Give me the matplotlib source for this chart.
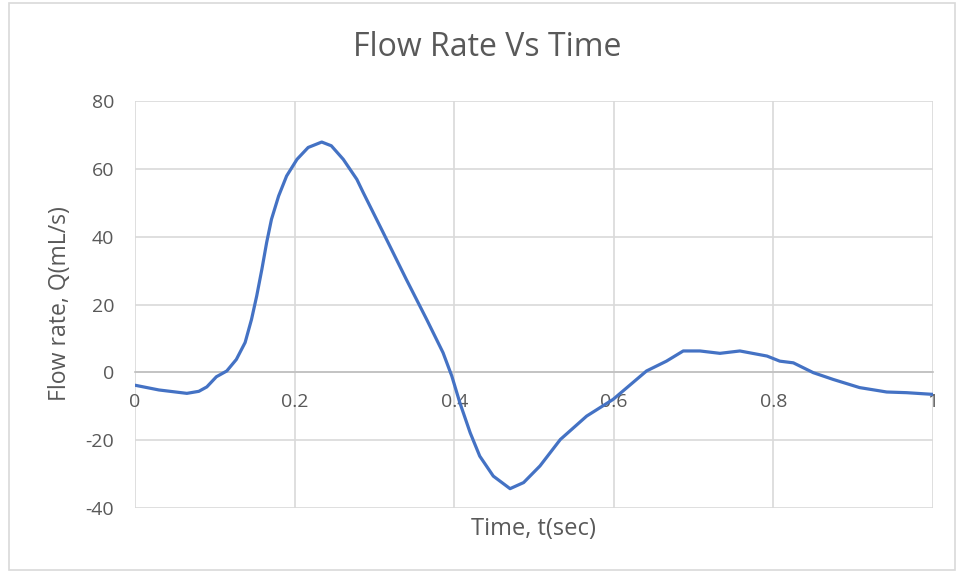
# Flow rate vs time (Excel-style line chart)
import matplotlib
matplotlib.use("Agg")
import matplotlib.pyplot as plt
from matplotlib.patches import Rectangle

# Data
time_s = [0, 0.03, 0.065, 0.08, 0.09, 0.102, 0.115, 0.127, 0.138, 0.146,
          0.1525, 0.159, 0.165, 0.171, 0.18, 0.19, 0.203, 0.217, 0.234,
          0.246, 0.261, 0.278, 0.286, 0.311, 0.34, 0.3655, 0.386, 0.397,
          0.407, 0.42, 0.432, 0.449, 0.47, 0.487, 0.5075, 0.533, 0.566,
          0.599, 0.624, 0.641, 0.666, 0.687, 0.708, 0.733, 0.758, 0.792,
          0.808, 0.825, 0.85, 0.875, 0.908, 0.942, 0.967, 1.0]
flow_q = [-3.8, -5.2, -6.2, -5.6, -4.3, -1.3, 0.4, 3.8, 8.8, 15.6,
          22.5, 30.4, 38.3, 45.1, 52.0, 57.9, 62.8, 66.3, 67.9,
          66.8, 62.8, 56.9, 53.0, 41.2, 27.4, 15.6, 5.8, -1.1,
          -8.9, -17.8, -24.7, -30.6, -34.3, -32.5, -27.6, -19.8, -12.9,
          -8, -3, 0.4, 3.3, 6.3, 6.3, 5.6, 6.3, 4.8,
          3.3, 2.8, -0.1, -2.1, -4.5, -5.8, -6, -6.5]
x_ticks = [0, 0.2, 0.4, 0.6, 0.8, 1.0]
x_labels = ["0", "0.2", "0.4", "0.6", "0.8", "1"]
y_ticks = [-40, -20, 0, 20, 40, 60, 80]

plt.rcParams['font.family'] = ['Open Sans', 'DejaVu Sans']
plt.rcParams['axes.unicode_minus'] = False
grey_txt = '#595959'
grid_c = '#d9d9d9'

W, H = 957, 575
fig = plt.figure(figsize=(W / 100, H / 100), dpi=100)
ax = fig.add_axes([135 / W, 1 - 508 / H, 798 / W, 407 / H])

ax.plot(time_s, flow_q, color='#4472C4', lw=2.3, solid_joinstyle='round',
        solid_capstyle='round', zorder=3)

ax.set_xlim(0, 1)
ax.set_ylim(-40, 80)
ax.set_xticks(x_ticks)
ax.set_xticklabels(x_labels)
ax.set_yticks(y_ticks)
ax.grid(True, color=grid_c, lw=1.2, zorder=0)
ax.set_axisbelow(True)

for s in ['top', 'right', 'left']:
    ax.spines[s].set_visible(False)
ax.spines['bottom'].set_position(('data', 0))
ax.spines['bottom'].set_color('#bfbfbf')
ax.spines['bottom'].set_linewidth(1.2)

ax.tick_params(axis='both', length=0, colors=grey_txt, labelsize=14)
ax.tick_params(axis='x', pad=15)
ax.tick_params(axis='y', pad=15)

fig.text(487 / W, 1 - 47 / H, 'Flow Rate Vs Time', ha='center', va='center',
         fontsize=23, color=grey_txt)
fig.text(533 / W, 1 - 529 / H, 'Time, t(sec)', ha='center', va='center',
         fontsize=17, color=grey_txt)
fig.text(60 / W, 1 - 304 / H, 'Flow rate, Q(mL/s)', ha='center', va='center',
         rotation=90, fontsize=16.6, color=grey_txt)

# chart area frame
fig.patches.append(Rectangle((9 / W, 1 - 570 / H), 946 / W, 567 / H,
                             transform=fig.transFigure, fill=False,
                             edgecolor=grid_c, lw=1.2))

fig.savefig('out.png', dpi=100)
